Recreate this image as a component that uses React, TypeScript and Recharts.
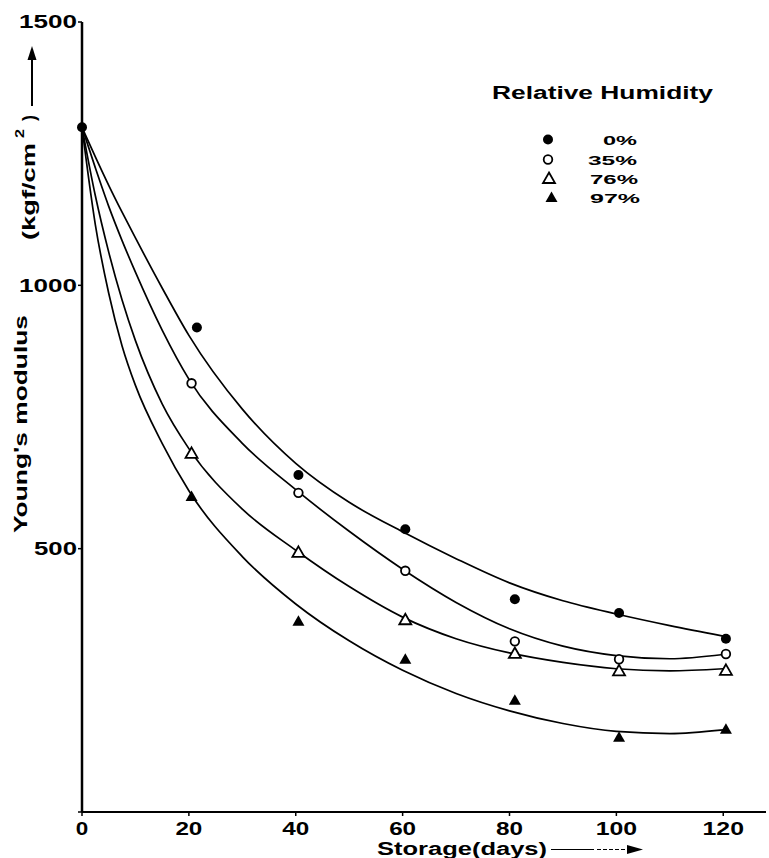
import { ComposedChart, Line, XAxis, YAxis } from 'recharts'

const FONT = '"Liberation Sans", Arial, Helvetica, sans-serif'

// measured stiffness, kgf/cm2, by storage day
const days0 = [0, 21.5, 40.5, 60.5, 81, 100.5, 120.5]
const obsDays = [20.5, 40.5, 60.5, 81, 100.5, 120.5]
const obs0 = [1300, 920, 640, 537, 404, 378, 329]
const obs35 = [814, 606, 458, 324, 290, 300]
const obs76 = [681, 493, 365, 301, 268, 269]
const obs97 = [599, 362, 290, 212, 142, 157]

// smoothed trend for each humidity level
const fitDays = [0, 2.5, 5, 7.5, 10, 15, 20, 30, 40, 50, 60, 70, 80, 90, 100, 110, 120]
const fit0 = [1300, 1244, 1190, 1139, 1090, 995, 905, 765, 662, 588, 532, 481, 435, 401, 376, 354, 334]
const fit35 = [1300, 1223, 1150, 1085, 1025, 915, 822, 700, 612, 533, 461, 398, 348, 315, 297, 291, 299]
const fit76 = [1300, 1170, 1063, 972, 895, 775, 690, 575, 497, 428, 370, 329, 302, 284, 272, 268, 272]
const fit97 = [1300, 1115, 985, 885, 810, 700, 610, 485, 395, 325, 269, 225, 192, 168, 153, 149, 156]

const xTicks = [0, 20, 40, 60, 80, 100, 120]
const yTicks = [0, 500, 1000, 1500]
const humidity = ['0%', '35%', '76%', '97%']

type Shape = 'disc' | 'ring' | 'tri' | 'solidTri'
const shapes: Shape[] = ['disc', 'ring', 'tri', 'solidTri']

const pts = (xs: number[], ys: number[]) => xs.map((d, i) => ({ d, v: ys[i] }))

function Marker({ cx, cy, shape }: { cx: number; cy: number; shape: Shape }) {
  if (shape === 'disc') return <circle cx={cx} cy={cy} r={5} fill="#000" />
  if (shape === 'ring') return <circle cx={cx} cy={cy} r={4.3} fill="#fff" stroke="#000" strokeWidth={1.8} />
  const p = `${cx},${cy - 6} ${cx + 6},${cy + 4.5} ${cx - 6},${cy + 4.5}`
  if (shape === 'tri') return <polygon points={p} fill="#fff" stroke="#000" strokeWidth={1.8} strokeLinejoin="miter" />
  return <polygon points={p} fill="#000" />
}

const XTick = (p: any) => {
  const s = String(p.payload.value)
  return (
    <text x={p.x} y={p.y + 19} textAnchor="middle" fontFamily={FONT} fontWeight={700} fontSize={18}
      fill="#000" textLength={s.length * 14.5 - 2} lengthAdjust="spacingAndGlyphs">{s}</text>
  )
}

const YTick = (p: any) => {
  const v = p.payload.value
  if (v === 0) return <g />
  const s = String(v)
  return (
    <text x={p.x - 1} y={p.y} dy="0.36em" textAnchor="end" fontFamily={FONT} fontWeight={700} fontSize={18}
      fill="#000" textLength={s.length * 15 - 2} lengthAdjust="spacingAndGlyphs">{s}</text>
  )
}

const fits = [fit0, fit35, fit76, fit97]
const obs = [pts(days0, obs0), pts(obsDays, obs35), pts(obsDays, obs76), pts(obsDays, obs97)]

export default function App() {
  return (
    <div style={{ position: 'absolute', left: 0, top: 0, width: 769, height: 858, background: '#fff', overflow: 'hidden' }}>
      <ComposedChart width={769} height={858} margin={{ top: 22, right: 3, left: 12, bottom: 16 }}>
        <XAxis type="number" dataKey="d" domain={[0, 128]} ticks={xTicks} interval={0} height={30}
          axisLine={{ stroke: '#000', strokeWidth: 2 }} tickLine={{ stroke: '#000', strokeWidth: 1.5 }}
          tickSize={4} tickMargin={0} tick={XTick} />
        <YAxis type="number" dataKey="v" domain={[0, 1500]} ticks={yTicks} interval={0} width={70}
          axisLine={{ stroke: '#000', strokeWidth: 2.5 }} tickLine={{ stroke: '#000', strokeWidth: 1.5 }}
          tickSize={4} tickMargin={0} tick={YTick} />
        {fits.map((f, i) => (
          <Line key={'fit' + i} data={pts(fitDays, f)} dataKey="v" type="monotone" stroke="#000"
            strokeWidth={1.7} dot={false} activeDot={false} isAnimationActive={false} />
        ))}
        {obs.map((o, i) => (
          <Line key={'obs' + i} data={o} dataKey="v" stroke="none" strokeWidth={0} activeDot={false}
            isAnimationActive={false}
            dot={(p: any) => <Marker key={`m${i}-${p.index}`} cx={p.cx} cy={p.cy} shape={shapes[i]} />} />
        ))}
      </ComposedChart>

      <svg width={769} height={858} style={{ position: 'absolute', left: 0, top: 0, pointerEvents: 'none' }}
        fontFamily={FONT} fontWeight={700} fill="#000">
        {/* y axis title with upward arrow */}
        <text x={27} y={424} transform="rotate(-90 27 424)" textAnchor="middle" fontSize={18}
          textLength={218} lengthAdjust="spacingAndGlyphs">Young's modulus</text>
        <text x={35} y={240} transform="rotate(-90 35 240)" fontSize={18}
          textLength={97} lengthAdjust="spacingAndGlyphs">(kgf/cm</text>
        <text x={24} y={138} transform="rotate(-90 24 138)" fontSize={12}
          textLength={9} lengthAdjust="spacingAndGlyphs">2</text>
        <text x={35} y={121} transform="rotate(-90 35 121)" fontSize={18}
          textLength={6} lengthAdjust="spacingAndGlyphs">)</text>
        <line x1={32} y1={106} x2={32} y2={58} stroke="#000" strokeWidth={2} />
        <polygon points="32,46 27.5,60 36.5,60" />

        {/* x axis title with arrow */}
        <text x={377} y={855} fontSize={18} textLength={170} lengthAdjust="spacingAndGlyphs">Storage(days)</text>
        <line x1={551} y1={849.5} x2={594} y2={849.5} stroke="#000" strokeWidth={1.2} />
        <line x1={597} y1={849.5} x2={628} y2={849.5} stroke="#000" strokeWidth={1.2} strokeDasharray="4 2" />
        <polygon points="643,849.5 627,845 627,854" />

        {/* legend */}
        <text x={492} y={99} fontSize={18} textLength={221} lengthAdjust="spacingAndGlyphs">Relative Humidity</text>
        {humidity.map((h, i) => {
          const cy = [139.5, 159.5, 178.5, 197.5][i]
          const cx = [548, 548, 549, 551.5][i]
          const tx = [603, 588, 590, 590][i]
          const tl = [34, 49, 48, 50][i]
          return (
            <g key={h}>
              <Marker cx={cx} cy={cy} shape={shapes[i]} />
              <text x={tx} y={cy + 5} fontSize={13} textLength={tl} lengthAdjust="spacingAndGlyphs">{h}</text>
            </g>
          )
        })}
      </svg>
    </div>
  )
}
